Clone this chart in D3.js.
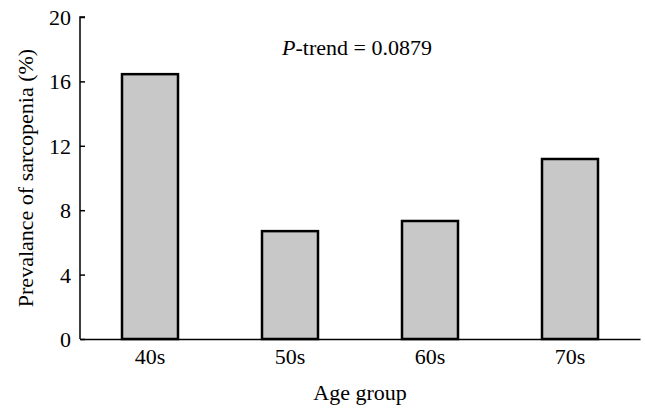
<!DOCTYPE html>
<html>
<head>
<meta charset="utf-8">
<script src="https://cdn.jsdelivr.net/npm/d3@7"></script>
<style>
  body { margin: 0; background: #fff; }
</style>
</head>
<body>
<svg id="chart" width="645" height="408"></svg>
<script>
// data
const groups = ["40s", "50s", "60s", "70s"];
const prevalence = [16.45, 6.7, 7.33, 11.18];
const yTicks = [0, 4, 8, 12, 16, 20];
const pTrend = "0.0879";

const serif = "'Liberation Serif', 'Times New Roman', Times, serif";
const fs = 22;

const svg = d3.select("#chart");
const mLeft = 80, mRight = 640, mTop = 17, mBottom = 339;

const x = d3.scaleBand().domain(groups).range([mLeft, mRight]).paddingInner(0.6).paddingOuter(0.3);
const y = d3.scaleLinear().domain([0, 20]).range([mBottom, mTop]);

// bars
svg.selectAll("rect.bar")
  .data(groups)
  .enter().append("rect")
  .attr("class", "bar")
  .attr("x", d => x(d))
  .attr("width", x.bandwidth())
  .attr("y", (d, i) => y(prevalence[i]))
  .attr("height", (d, i) => y(0) - y(prevalence[i]))
  .attr("fill", "#c8c8c8")
  .attr("stroke", "#000")
  .attr("stroke-width", 2.5);

// y axis, ticks pointing inward
const yAxis = svg.append("g")
  .attr("transform", `translate(${mLeft},0)`)
  .call(d3.axisRight(y).tickValues(yTicks).tickSize(5).tickFormat(d3.format("d")));
yAxis.select(".domain").attr("d", `M5,${mTop}H0V${mBottom}`).attr("stroke-width", 1.5);
yAxis.selectAll(".tick line").attr("stroke-width", 1.5);
yAxis.selectAll(".tick text")
  .attr("x", -9)
  .attr("dy", "0.34em")
  .attr("text-anchor", "end")
  .style("font-family", serif)
  .style("font-size", fs + "px");

// x axis
const xAxis = svg.append("g")
  .attr("transform", `translate(0,${mBottom})`)
  .call(d3.axisBottom(x).tickSize(0));
xAxis.select(".domain").attr("stroke-width", 1.5);
xAxis.selectAll(".tick text")
  .attr("y", 25)
  .attr("dy", 0)
  .style("font-family", serif)
  .style("font-size", fs + "px");

// axis titles
svg.append("text")
  .attr("x", (mLeft + mRight) / 2)
  .attr("y", 400)
  .attr("text-anchor", "middle")
  .style("font-family", serif)
  .style("font-size", fs + "px")
  .text("Age group");

svg.append("text")
  .attr("transform", `translate(33,${(mTop + mBottom) / 2}) rotate(-90)`)
  .attr("text-anchor", "middle")
  .style("font-family", serif)
  .style("font-size", fs + "px")
  .text("Prevalance of sarcopenia (%)");

// trend annotation
const note = svg.append("text")
  .attr("x", 282)
  .attr("y", 55)
  .style("font-family", serif)
  .style("font-size", fs + "px");
note.append("tspan").attr("font-style", "italic").text("P");
note.append("tspan").text("-trend = " + pTrend);
</script>
</body>
</html>
